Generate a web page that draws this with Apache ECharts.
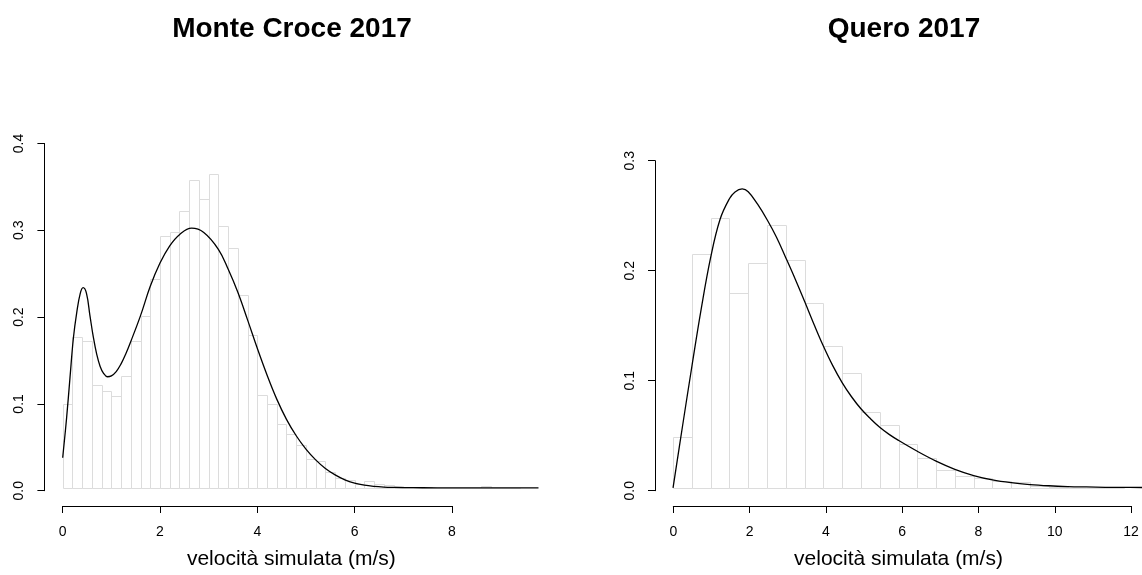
<!DOCTYPE html>
<html>
<head>
<meta charset="utf-8">
<script src="https://cdn.jsdelivr.net/npm/echarts@6/dist/echarts.min.js"></script>
<style>
  html, body { margin: 0; padding: 0; background: #ffffff; }
  #chart { width: 1142px; height: 575px; }
</style>
</head>
<body>
<div id="chart"></div>
<script>
// ---- Monte Croce 2017: histogram of simulated speeds (bins of 0.2 m/s) and fitted density ----
const mcBinWidth = 0.2;
const mcDensity = [
  0.097, 0.175, 0.170, 0.119, 0.112, 0.107, 0.130, 0.170, 0.199, 0.242,
  0.293, 0.297, 0.322, 0.358, 0.335, 0.364, 0.304, 0.279, 0.224, 0.178,
  0.108, 0.097, 0.074, 0.063, 0.050, 0.033, 0.031, 0.018, 0.012, 0.009,
  0.005, 0.008, 0.004, 0.003, 0.002, 0.001, 0.001, 0.0005, 0, 0,
  0, 0, 0, 0.002, 0, 0, 0
];
const mcCurveX = [0, 0.08, 0.15, 0.22, 0.29, 0.36, 0.42, 0.49, 0.56, 0.63, 0.70, 0.77, 0.84, 0.92,
  1.00, 1.10, 1.20, 1.30, 1.40, 1.60, 1.80, 2.00, 2.20, 2.40, 2.65, 2.90, 3.20, 3.40, 3.60, 3.80,
  4.00, 4.20, 4.40, 4.60, 4.80, 5.00, 5.20, 5.40, 5.60, 5.80, 6.00, 6.20, 6.40, 6.60, 6.80, 7.00, 7.40, 8.00, 9.00, 9.78];
const mcCurveY = [0.035, 0.081, 0.128, 0.174, 0.204, 0.2255, 0.2324, 0.2255, 0.200, 0.175, 0.155, 0.141, 0.133, 0.129,
  0.130, 0.135, 0.144, 0.156, 0.170, 0.200, 0.234, 0.261, 0.281, 0.294, 0.3015, 0.2965, 0.277, 0.254, 0.227, 0.195,
  0.162, 0.131, 0.103, 0.0795, 0.0605, 0.045, 0.0325, 0.0225, 0.0150, 0.0093, 0.0055, 0.0031, 0.0017, 0.0009, 0.0005, 0.0003, 0.0001, 0, 0, 0];
const mcXTicks = [0, 2, 4, 6, 8];
const mcYTicks = [0, 0.1, 0.2, 0.3, 0.4];

// ---- Quero 2017: histogram (bins of 0.5 m/s) and fitted density ----
const qBinWidth = 0.5;
const qDensity = [
  0.047, 0.2145, 0.2475, 0.179, 0.206, 0.2405, 0.209, 0.169, 0.130, 0.105,
  0.0694, 0.0576, 0.0404, 0.0277, 0.0167, 0.0112, 0.0088, 0.0066, 0.0052, 0.0015,
  0.0008, 0.0003, 0.0002, 0.0001
];
const qCurveX = [0, 0.25, 0.5, 0.75, 1.0, 1.25, 1.5, 1.65, 1.84, 2.0, 2.25, 2.5, 2.75, 3.0, 3.25, 3.5, 3.75,
  4.0, 4.25, 4.5, 4.75, 5.0, 5.25, 5.5, 5.75, 6.0, 6.5, 7.0, 7.5, 8.0, 8.5, 9.0, 9.5, 10.0, 10.5, 11.0, 11.5, 12.0, 12.48];
const qCurveY = [0, 0.056, 0.111, 0.164, 0.211, 0.246, 0.265, 0.2713, 0.274, 0.2715, 0.260, 0.246, 0.230, 0.211, 0.1915, 0.171, 0.150,
  0.130, 0.112, 0.0965, 0.0835, 0.0725, 0.0635, 0.0555, 0.049, 0.0435, 0.0335, 0.0245, 0.017, 0.0113, 0.0073, 0.0047, 0.0030, 0.0019, 0.0012, 0.0008, 0.0005, 0.0004, 0.0003];
const qXTicks = [0, 2, 4, 6, 8, 10, 12];
const qYTicks = [0, 0.1, 0.2, 0.3];

const panelTitles = ['Monte Croce 2017', 'Quero 2017'];
const xAxisTitle = 'velocità simulata (m/s)';

// ---- layout of the two plotting regions (pixels) and their user coordinate ranges ----
const panels = [
  {
    title: panelTitles[0], titleX: 292,
    box: { left: 44.4, top: 129.4, width: 493.9, height: 376.6 },
    xRange: [-0.376, 9.776], yRange: [-0.0176, 0.4162],
    binWidth: mcBinWidth, density: mcDensity,
    curveX: mcCurveX, curveY: mcCurveY,
    xTicks: mcXTicks, yTicks: mcYTicks
  },
  {
    title: panelTitles[1], titleX: 904,
    box: { left: 655, top: 147.5, width: 494.4, height: 358.5 },
    xRange: [-0.48, 12.48], yRange: [-0.0139, 0.312],
    binWidth: qBinWidth, density: qDensity,
    curveX: qCurveX, curveY: qCurveY,
    xTicks: qXTicks, yTicks: qYTicks
  }
];

const FONT = '"Liberation Sans", Arial, Helvetica, sans-serif';

function xPix(p, v) {
  return p.box.left + (v - p.xRange[0]) / (p.xRange[1] - p.xRange[0]) * p.box.width;
}
function yPix(p, v) {
  return p.box.top + (p.yRange[1] - v) / (p.yRange[1] - p.yRange[0]) * p.box.height;
}

const grid = [], xAxis = [], yAxis = [], series = [], title = [];

panels.forEach(function (p, k) {
  const g0 = grid.length;
  const bottom = p.box.top + p.box.height;

  // plotting region
  grid.push({ left: p.box.left, top: p.box.top, width: p.box.width, height: p.box.height });
  xAxis.push({
    gridIndex: g0, type: 'value', min: p.xRange[0], max: p.xRange[1],
    axisLine: { show: false }, axisTick: { show: false }, axisLabel: { show: false }, splitLine: { show: false },
    name: xAxisTitle, nameLocation: 'middle', nameGap: 46,
    nameTextStyle: { fontFamily: FONT, fontSize: 21, color: '#000' }
  });
  yAxis.push({
    gridIndex: g0, type: 'value', min: p.yRange[0], max: p.yRange[1],
    axisLine: { show: false }, axisTick: { show: false }, axisLabel: { show: false }, splitLine: { show: false }
  });

  // x axis drawn from first to last tick
  const xt0 = p.xTicks[0], xt1 = p.xTicks[p.xTicks.length - 1];
  const xl = xPix(p, xt0), xr = xPix(p, xt1);
  grid.push({ left: xl, top: bottom - 1, width: xr - xl, height: 1 });
  xAxis.push({
    gridIndex: g0 + 1, type: 'value', min: xt0, max: xt1, interval: p.xTicks[1] - p.xTicks[0],
    axisLine: { show: true, lineStyle: { color: '#000', width: 1 } },
    axisTick: { show: true, length: 7, lineStyle: { color: '#000', width: 1 } },
    axisLabel: { show: true, margin: 19, fontFamily: FONT, fontSize: 14, color: '#000' },
    splitLine: { show: false }
  });
  yAxis.push({ gridIndex: g0 + 1, type: 'value', show: false });

  // y axis drawn from first to last tick
  const yt0 = p.yTicks[0], yt1 = p.yTicks[p.yTicks.length - 1];
  const yb = yPix(p, yt0), ytop = yPix(p, yt1);
  grid.push({ left: p.box.left, top: ytop, width: 1, height: yb - ytop });
  xAxis.push({ gridIndex: g0 + 2, type: 'value', show: false });
  yAxis.push({
    gridIndex: g0 + 2, type: 'value', min: yt0, max: yt1, interval: p.yTicks[1] - p.yTicks[0],
    axisLine: { show: true, lineStyle: { color: '#000', width: 1 } },
    axisTick: { show: true, length: 7, lineStyle: { color: '#000', width: 1 } },
    axisLabel: {
      show: true, rotate: 90, margin: 18, fontFamily: FONT, fontSize: 14, color: '#000',
      formatter: function (v) { return v.toFixed(1); }
    },
    splitLine: { show: false }
  });

  // histogram bars (outlines only)
  const bins = p.density.map(function (d, i) {
    return [i * p.binWidth, (i + 1) * p.binWidth, d];
  });
  series.push({
    type: 'custom', xAxisIndex: g0, yAxisIndex: g0, data: bins, silent: true,
    encode: { x: [0, 1], y: 2 },
    renderItem: function (params, api) {
      const a = api.coord([api.value(0), api.value(2)]);
      const b = api.coord([api.value(1), 0]);
      const x0 = Math.round(a[0]) + 0.5, x1 = Math.round(b[0]) + 0.5;
      const y0 = Math.round(a[1]) + 0.5, y1 = Math.round(b[1]) + 0.5;
      return {
        type: 'rect',
        shape: { x: x0, y: y0, width: x1 - x0, height: y1 - y0 },
        style: { fill: 'none', stroke: '#dcdcdc', lineWidth: 1 }
      };
    },
    z: 1
  });

  // fitted density curve
  series.push({
    type: 'line', xAxisIndex: g0, yAxisIndex: g0, silent: true,
    data: p.curveX.map(function (x, i) { return [x, p.curveY[i]]; }),
    showSymbol: false, smooth: 0.4, clip: true,
    lineStyle: { color: '#000', width: 1.3 },
    z: 3
  });

  title.push({
    text: p.title, left: p.titleX, top: 15, textAlign: 'center', padding: 0,
    textStyle: { fontFamily: FONT, fontSize: 28, fontWeight: 'bold', color: '#000' }
  });
});

const chart = echarts.init(document.getElementById('chart'), null, { renderer: 'canvas' });
chart.setOption({
  backgroundColor: '#ffffff',
  animation: false,
  title: title,
  grid: grid,
  xAxis: xAxis,
  yAxis: yAxis,
  series: series
});
</script>
</body>
</html>
